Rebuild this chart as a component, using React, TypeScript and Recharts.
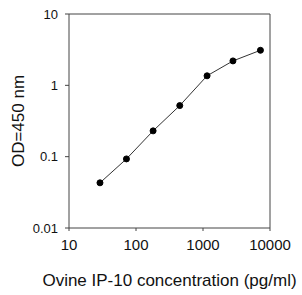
import React from "react";
import {
  LineChart,
  Line,
  XAxis,
  YAxis,
  ReferenceLine,
} from "recharts";

// concentration (pg/ml) and OD readings
const concentrations = [29, 72, 180, 450, 1150, 2800, 7200];
const odValues = [0.043, 0.093, 0.23, 0.52, 1.36, 2.2, 3.1];
const xTicks = [10, 100, 1000, 10000];
const yTicks = [0.01, 0.1, 1, 10];

const data = concentrations.map((c, i) => ({ conc: c, od: odValues[i] }));

const FONT = "'Liberation Sans', Arial, sans-serif";
const AXIS = "#444";

const YLabel = ({ viewBox }: any) => {
  const cy = viewBox.y + viewBox.height / 2;
  return (
    <text
      x={24}
      y={cy}
      transform={`rotate(-90, 24, ${cy})`}
      textAnchor="middle"
      fontSize={17}
      fontFamily={FONT}
      fill="#111"
    >
      OD=450 nm
    </text>
  );
};

export default function App() {
  return (
    <div style={{ position: "absolute", left: 0, top: 0, background: "#fff" }}>
      <LineChart
        width={302}
        height={295}
        data={data}
        margin={{ top: 14, right: 32, left: 0, bottom: 0 }}
      >
        <XAxis
          dataKey="conc"
          type="number"
          scale="log"
          domain={[10, 10000]}
          ticks={xTicks}
          allowDataOverflow
          height={67}
          tickSize={3}
          tickMargin={8}
          stroke={AXIS}
          tick={{ fontSize: 15, fill: "#111", fontFamily: FONT }}
          tickFormatter={(v) => String(v)}
          label={{
            value: "Ovine IP-10 concentration (pg/ml)",
            position: "insideBottom",
            offset: 9,
            fontSize: 17,
            fontFamily: FONT,
            fill: "#111",
          }}
        />
        <YAxis
          dataKey="od"
          type="number"
          scale="log"
          domain={[0.01, 10]}
          ticks={yTicks}
          allowDataOverflow
          width={69}
          tickSize={4}
          tickMargin={7}
          stroke={AXIS}
          tick={{ fontSize: 13, fill: "#111", fontFamily: FONT }}
          tickFormatter={(v) => String(v)}
          label={<YLabel />}
        />
        <ReferenceLine y={10} stroke={AXIS} />
        <ReferenceLine x={10000} stroke={AXIS} />
        <Line
          dataKey="od"
          stroke="#333"
          strokeWidth={1}
          dot={{ r: 3, fill: "#000", stroke: "#000", strokeWidth: 1 }}
          isAnimationActive={false}
        />
      </LineChart>
    </div>
  );
}
